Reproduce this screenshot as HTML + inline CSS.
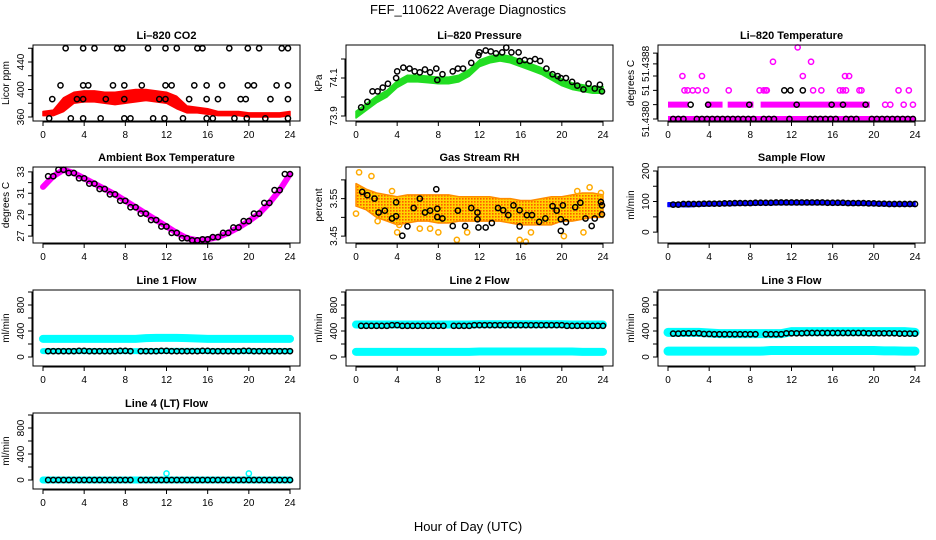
<!DOCTYPE html>
<html><head><meta charset="utf-8"><style>
body{margin:0;background:#fff;}
svg{display:block;font-family:"Liberation Sans",Arial,sans-serif;}
</style></head><body>
<svg id="chart" width="936" height="540" viewBox="0 0 936 540" xmlns="http://www.w3.org/2000/svg">
<text x="468" y="14" text-anchor="middle" font-size="13">FEF_110622  Average Diagnostics</text>
<text x="468" y="531" text-anchor="middle" font-size="13">Hour of Day (UTC)</text>
</svg>
<script>
// ---- data ----
const hours = [0,1,2,3,4,5,6,7,8,9,10,11,12,13,14,15,16,17,18,19,20,21,22,23,24];
const xTicks = [0,4,8,12,16,20,24];
// CO2
const co2Lo = [362,362,368,380,382,382,380,378,380,382,384,382,380,372,366,366,364,362,362,362,360,360,360,360,362];
const co2Hi = [368,370,388,396,398,398,396,396,398,400,400,398,396,390,376,374,372,368,368,368,366,366,366,366,368];
const co2CircH = [2.2,3.9,5.0,7.2,7.7,10.2,11.9,13.0,15.0,15.5,18.1,19.9,21.0,23.2,23.8, 1.7,3.9,4.4,6.8,7.9,9.6,11.9,12.5,14.7,15.9,17.4,19.9,20.5,22.7,23.8, 0.9,3.3,3.9,6.1,7.9,11.3,11.9,14.2,15.9,17.0,19.2,19.7,22.1,23.8, 0.6,2.7,3.9,5.6,7.9,8.5,10.7,11.8,13.6,15.9,16.5,18.6,19.8,21.6,23.8];
const co2CircV = [460,460,460,460,460,460,460,460,460,460,460,460,460,460,460, 406,406,406,406,406,406,406,406,406,406,406,406,406,406,406, 386,386,386,386,386,386,386,386,386,386,386,386,386,386, 358,358,358,358,358,358,358,358,358,358,358,358,358,358,358];
// Pressure
const presLo = [73.89,73.93,73.97,74.0,74.05,74.08,74.08,74.075,74.07,74.07,74.08,74.11,74.16,74.18,74.19,74.18,74.16,74.14,74.12,74.09,74.06,74.04,74.03,74.02,74.02];
const presHi = [73.925,73.965,74.005,74.035,74.085,74.115,74.115,74.11,74.105,74.105,74.115,74.145,74.195,74.215,74.225,74.215,74.195,74.175,74.155,74.125,74.095,74.075,74.065,74.055,74.055];
const presCircH = [0.5,1.1,1.6,2.1,2.6,3.1,3.9,4.0,4.6,5.2,5.7,6.2,6.7,7.2,7.8,7.9,8.4,9.4,9.9,10.4,11.2,11.9,12.0,12.6,13.1,13.6,14.2,14.6,15.1,15.8,15.9,16.4,16.9,17.4,17.9,18.5,19.1,19.6,19.9,20.4,21.0,21.5,22.1,22.6,23.2,23.7,23.9];
const presCircV = [73.946,73.975,74.03,74.03,74.05,74.07,74.10,74.135,74.155,74.15,74.135,74.13,74.145,74.13,74.15,74.09,74.12,74.135,74.15,74.15,74.18,74.22,74.235,74.245,74.24,74.23,74.235,74.26,74.235,74.235,74.19,74.195,74.19,74.2,74.19,74.15,74.12,74.11,74.1,74.1,74.08,74.06,74.04,74.07,74.045,74.065,74.03];
// Li-820 temperature (levels above 51.4380 in 0.0002 steps)
const tLevelSegStart = [0,0,3.7,5.8,9.0];
const tLevelSegEnd   = [24,2.0,5.3,8.3,19.6];
const tLevelSegLev   = [0,1,1,1,1];
const tPinkH = [21.1,21.6,22.9,23.8,1.6,1.9,2.4,2.9,3.7,5.9,8.9,9.3,9.5,9.6,14.1,14.9,16.7,17.0,17.3,18.6,18.8,22.4,23.4,1.4,3.3,13.1,17.2,17.6,10.2,13.9,12.6];
const tPinkL = [1,1,1,1,2,2,2,2,2,2,2,2,2,2,2,2,2,2,2,2,2,2,2,3,3,3,3,3,4,4,5];
const tBlackH = [0.5,1.0,1.5,2.8,3.3,3.8,4.3,4.8,5.3,5.8,6.3,6.8,7.3,7.8,8.3,9.3,9.8,10.3,11.8,13.8,14.3,14.8,15.3,15.8,16.3,17.3,17.8,18.3,19.8,20.3,20.8,21.3,21.8,22.3,22.8,23.3,23.8, 2.2,3.9,7.9,12.5,15.9,17.0,19.2, 11.3,11.9,13.1];
const tBlackL = [0,0,0,0,0,0,0,0,0,0,0,0,0,0,0,0,0,0,0,0,0,0,0,0,0,0,0,0,0,0,0,0,0,0,0,0,0, 1,1,1,1,1,1,1, 2,2,2];
// Ambient box temperature
const ambT = [31.6,32.6,33.2,32.9,32.4,31.9,31.4,30.9,30.3,29.7,29.1,28.5,27.9,27.3,26.8,26.6,26.7,26.9,27.3,27.8,28.4,29.1,30.1,31.3,32.8];
// Gas stream RH
const rhHi = [3.59,3.575,3.565,3.56,3.555,3.56,3.56,3.56,3.56,3.56,3.555,3.555,3.555,3.555,3.55,3.55,3.545,3.545,3.55,3.555,3.555,3.56,3.565,3.565,3.56];
const rhLo = [3.53,3.52,3.50,3.49,3.48,3.485,3.49,3.49,3.485,3.485,3.49,3.49,3.49,3.49,3.49,3.485,3.48,3.48,3.48,3.48,3.49,3.49,3.495,3.5,3.5];
const rhOutH = [0.3,0.0,1.5,2.1,3.5,4.0,4.2,6.2,7.2,8.0,9.8,10.8,15.9,16.5,17.0,20.2,21.5,22.1,22.7,23.8];
const rhOutV = [3.62,3.51,3.61,3.49,3.57,3.46,3.48,3.47,3.47,3.46,3.44,3.46,3.44,3.435,3.46,3.45,3.57,3.46,3.58,3.565];
const rhCircH = [0.6,1.1,1.8,2.2,2.8,3.5,3.9,3.9,4.5,5.0,5.6,6.2,6.7,7.2,7.8,7.9,7.9,8.4,9.4,9.9,10.6,11.2,11.8,11.8,11.9,12.6,13.2,13.8,14.3,14.8,15.3,15.9,15.9,16.6,17.1,17.8,18.4,19.1,19.5,19.9,19.9,20.1,20.4,21.3,21.8,22.3,22.9,23.2,23.8,23.9,23.9];
const rhCircV = [3.568,3.559,3.55,3.513,3.518,3.497,3.54,3.503,3.451,3.476,3.525,3.55,3.513,3.518,3.575,3.523,3.501,3.497,3.477,3.518,3.477,3.525,3.513,3.495,3.473,3.473,3.485,3.525,3.519,3.506,3.532,3.519,3.476,3.506,3.506,3.488,3.497,3.53,3.518,3.495,3.464,3.532,3.487,3.527,3.539,3.497,3.477,3.497,3.541,3.532,3.508];
// Sample flow
const sfLo = [84,84,83,85,86,87,87,88,88,89,89,90,90,90,90,90,89,89,88,88,87,86,85,85,85];
const sfHi = [96,96,97,97,98,99,99,100,100,101,101,102,102,102,102,102,101,101,100,100,99,98,97,97,97];
const sfBlack = [90,90,92,92,93,93,94,95,95,96,96,97,97,97,97,97,96,96,95,95,94,93,92,92,92];
// Line flows
const l1CyanHi = [280,280,280,280,280,280,280,280,280,280,290,295,295,295,290,285,280,280,280,280,280,280,280,280,280];
const l1CyanLo = [90,90,90,90,90,90,90,90,90,90,90,90,95,95,95,95,90,90,90,90,90,90,90,90,90];
const l1Black  = [90,90,90,90,95,90,90,90,95,90,90,90,95,90,90,90,95,90,90,90,95,90,90,90,90];
const l2CyanHi = [500,500,500,500,500,500,500,500,500,500,500,500,505,505,505,505,505,505,505,505,505,500,500,500,500];
const l2CyanLo = [80,80,80,80,80,80,80,80,80,80,80,80,85,85,85,85,85,85,85,85,85,85,80,80,80];
const l2Black  = [480,480,480,480,490,480,480,480,480,480,480,480,490,490,490,490,490,490,490,490,490,480,480,480,480];
const l3CyanHi = [380,380,380,380,370,360,360,360,360,360,360,360,390,390,390,390,390,390,390,390,390,390,390,390,380];
const l3CyanLo = [90,90,90,90,90,90,90,90,90,90,100,100,100,100,100,100,100,100,100,100,100,95,95,90,90];
const l3Black  = [360,360,365,365,355,350,350,350,350,350,350,350,365,365,370,370,370,370,370,370,365,365,365,360,360];
const l4Cyan   = [0,0,0,0,0,0,0,0,0,0,0,0,0,0,0,0,0,0,0,0,0,0,0,0,0];
const l4Black  = [0,0,0,0,0,0,0,0,0,0,0,0,0,0,0,0,0,0,0,0,0,0,0,0,0];
const l4SpikeH = [12,20];
const l4SpikeV = [100,100];
// tick definitions
const co2Ticks = [360,380,400,420,440,460];
const co2Labels = ['360','','400','','440',''];
const presTicks = [73.9,74.0,74.1,74.2];
const presLabels = ['73.9','','74.1',''];
const tTicks = [0,1,2,3,3.85,4.6];
const tLabels = ['51.4380','','51','','51.4388',''];
const ambTicks = [27,28,29,30,31,32,33];
const ambLabels = ['27','','29','','31','','33'];
const rhTicks = [3.45,3.50,3.55,3.60];
const rhLabels = ['3.45','','3.55',''];
const sfTicks = [0,50,100,150,200];
const sfLabels = ['0','','100','','200'];
const flTicks = [0,200,400,600,800,1000];
const flLabels = ['0','','400','','800',''];

// ---- drawing ----
const NS = 'http://www.w3.org/2000/svg';
const svg = document.getElementById('chart');
const COLS = [33,346,658], ROWS = [45,167,290,413], PW = 267, PH = 76;
function mk(tag, parent){ const e = document.createElementNS(NS, tag); parent.appendChild(e); return e; }

function panel(key, col, row, yMin, yMax, title, ylab, ticks, labels){
  const L = COLS[col], T = ROWS[row], B = T+PH, R = L+PW;
  const g = mk('g', svg);
  
  
  const xs = h => L + 10 + h*247/24;
  const ys = v => B - (v - yMin)/(yMax - yMin)*PH;
  const plot = mk('g', g);
  
  
  const box = mk('rect', g);
  
  
  box.setAttribute('x', L); box.setAttribute('y', T); box.setAttribute('width', PW); box.setAttribute('height', PH);
  box.setAttribute('fill', 'none'); box.setAttribute('stroke', '#000'); box.setAttribute('stroke-width', '1');
  const tt = mk('text', g);
  
  
  tt.setAttribute('x', L + PW/2); tt.setAttribute('y', T - 6); tt.setAttribute('text-anchor', 'middle');
  tt.setAttribute('font-size', '11'); tt.setAttribute('font-weight', 'bold'); tt.textContent = title;
  const yl = mk('text', g);
  
  
  yl.setAttribute('transform', `translate(${L-24},${T+PH/2}) rotate(-90)`);
  yl.setAttribute('text-anchor', 'middle'); yl.setAttribute('font-size', '10'); yl.textContent = ylab;
  const xa = mk('path', g);
  
  
  let d = `M${xs(xTicks[0])},${B+1}H${xs(xTicks[xTicks.length-1])}`;
  xTicks.forEach(t => { d += `M${xs(t)},${B}v5`; });
  xa.setAttribute('d', d); xa.setAttribute('stroke', '#000'); xa.setAttribute('fill', 'none');
  xTicks.forEach(t => {
    const lb = mk('text', g);
    
    
    lb.setAttribute('x', xs(t)); lb.setAttribute('y', B + 17); lb.setAttribute('text-anchor', 'middle');
    lb.setAttribute('font-size', '10'); lb.textContent = String(t);
  });
  const ya = mk('path', g);
  
  
  let dy = `M${L-1},${ys(ticks[0])}V${ys(ticks[ticks.length-1])}`;
  ticks.forEach(t => { dy += `M${L},${ys(t)}h-5`; });
  ya.setAttribute('d', dy); ya.setAttribute('stroke', '#000'); ya.setAttribute('fill', 'none');
  ticks.forEach((t,i) => {
    if(!labels[i]) return;
    const lb = mk('text', g);
    
    
    lb.setAttribute('transform', `translate(${L-9},${ys(t)}) rotate(-90)`);
    lb.setAttribute('text-anchor', 'middle'); lb.setAttribute('font-size', '10'); lb.textContent = labels[i];
  });
  return {xs, ys, g: plot};
}
function band(p, lo, hi, fill, name){
  const pts = hours.map((h,i) => `${p.xs(h)},${p.ys(hi[i])}`).concat(hours.slice().reverse().map((h,j) => { const i = hours.length-1-j; return `${p.xs(h)},${p.ys(lo[i])}`; }));
  const e = mk('polygon', p.g);
  
  
  e.setAttribute('points', pts.join(' ')); e.setAttribute('fill', fill);
  e.setAttribute('stroke', fill.startsWith('url') ? '#ff8c00' : fill); e.setAttribute('stroke-width', '1.5'); e.setAttribute('stroke-linejoin', 'round');
}
function line(p, vals, color, w, name){
  const e = mk('polyline', p.g);
  
  
  e.setAttribute('points', hours.map((h,i) => `${p.xs(h)},${p.ys(vals[i])}`).join(' '));
  e.setAttribute('fill', 'none'); e.setAttribute('stroke', color); e.setAttribute('stroke-width', w); e.setAttribute('stroke-linecap', 'round');
}
function dot(p, h, v, color, name, r){
  const e = mk('circle', p.g);
  
  
  e.setAttribute('cx', p.xs(h)); e.setAttribute('cy', p.ys(v)); e.setAttribute('r', r || 2.6);
  e.setAttribute('fill', 'none'); e.setAttribute('stroke', color); e.setAttribute('stroke-width', '1.5');
}
function hourlyDots(p, vals, color, name, skip){
  hours.forEach((h,i) => {
    [0.5, 1.0].forEach(off => {
      const hh = h - 1 + off;
      if(hh < 0.4 || (skip && hh > skip[0] && hh < skip[1])) return;
      dot(p, hh, vals[i], color, name, 2.6);
    });
  });
}

const defs = mk('defs', svg);
const pat = mk('pattern', defs);
pat.setAttribute('id', 'rhpat'); pat.setAttribute('width', '3'); pat.setAttribute('height', '3'); pat.setAttribute('patternUnits', 'userSpaceOnUse');
const pr = mk('rect', pat); pr.setAttribute('width', '3'); pr.setAttribute('height', '3'); pr.setAttribute('fill', '#ffd400');
const pc = mk('rect', pat); pc.setAttribute('width', '1.6'); pc.setAttribute('height', '1.6'); pc.setAttribute('fill', '#ff5a00');

let p = panel('co2', 0, 0, 354.2, 464.7, 'Li–820 CO2', 'Licor ppm', co2Ticks, co2Labels);
band(p, co2Lo, co2Hi, '#ff0000', 'co2-band');
co2CircH.forEach((h,i) => dot(p, h, co2CircV[i], '#000', 'co2-average-point'));

p = panel('pressure', 1, 0, 73.874, 74.274, 'Li–820 Pressure', 'kPa', presTicks, presLabels);
band(p, presLo, presHi, '#22dd22', 'pressure-band');
presCircH.forEach((h,i) => dot(p, h, presCircV[i], '#000', 'pressure-average-point'));

p = panel('li820-temp', 2, 0, -0.14, 5.17, 'Li–820 Temperature', 'degrees C', tTicks, tLabels);
tLevelSegStart.forEach((s,i) => {
  const e = mk('line', p.g);
  
  
  e.setAttribute('x1', p.xs(s)); e.setAttribute('x2', p.xs(tLevelSegEnd[i]));
  e.setAttribute('y1', p.ys(tLevelSegLev[i])); e.setAttribute('y2', p.ys(tLevelSegLev[i]));
  e.setAttribute('stroke', '#ff00ff'); e.setAttribute('stroke-width', '6');
});
tPinkH.forEach((h,i) => dot(p, h, tPinkL[i], '#ff00ff', 'temp-point'));
tBlackH.forEach((h,i) => dot(p, h, tBlackL[i], '#000', 'temp-average-point'));

p = panel('ambient', 0, 1, 26.354, 33.46, 'Ambient Box Temperature', 'degrees C', ambTicks, ambLabels);
line(p, ambT, '#ff00ff', 6, 'ambient-band');
hourlyDots(p, ambT, '#000', 'ambient-average-point');

p = panel('rh', 1, 1, 3.4316, 3.6342, 'Gas Stream RH', 'percent', rhTicks, rhLabels);
band(p, rhLo, rhHi, 'url(#rhpat)', 'rh-band');
rhOutH.forEach((h,i) => dot(p, h, rhOutV[i], '#ffaa00', 'rh-point'));
rhCircH.forEach((h,i) => dot(p, h, rhCircV[i], '#000', 'rh-average-point'));

p = panel('sample-flow', 2, 1, -35.5, 212.9, 'Sample Flow', 'ml/min', sfTicks, sfLabels);
band(p, sfLo, sfHi, '#0000ff', 'sample-flow-band');
hourlyDots(p, sfBlack, '#000', 'sample-flow-average-point');

p = panel('line1', 0, 2, -138, 1031, 'Line 1 Flow', 'ml/min', flTicks, flLabels);
line(p, l1CyanHi, '#00ffff', 8, 'line1-upper-band');
line(p, l1CyanLo, '#00ffff', 6, 'line1-lower-band');
hourlyDots(p, l1Black, '#000', 'line1-average-point', [8.8, 9.4]);

p = panel('line2', 1, 2, -138, 1031, 'Line 2 Flow', 'ml/min', flTicks, flLabels);
line(p, l2CyanHi, '#00ffff', 8, 'line2-upper-band');
line(p, l2CyanLo, '#00ffff', 8, 'line2-lower-band');
hourlyDots(p, l2Black, '#000', 'line2-average-point', [8.8, 9.4]);

p = panel('line3', 2, 2, -138, 1031, 'Line 3 Flow', 'ml/min', flTicks, flLabels);
line(p, l3CyanHi, '#00ffff', 9, 'line3-upper-band');
line(p, l3CyanLo, '#00ffff', 9, 'line3-lower-band');
hourlyDots(p, l3Black, '#000', 'line3-average-point', [8.8, 9.4]);

p = panel('line4', 0, 3, -138, 1031, 'Line 4 (LT) Flow', 'ml/min', flTicks, flLabels);
line(p, l4Cyan, '#00ffff', 7, 'line4-band');
l4SpikeH.forEach((h,i) => dot(p, h, l4SpikeV[i], '#00ffff', 'line4-spike-point'));
hourlyDots(p, l4Black, '#000', 'line4-average-point', [8.8, 9.4]);
</script>
</body></html>
